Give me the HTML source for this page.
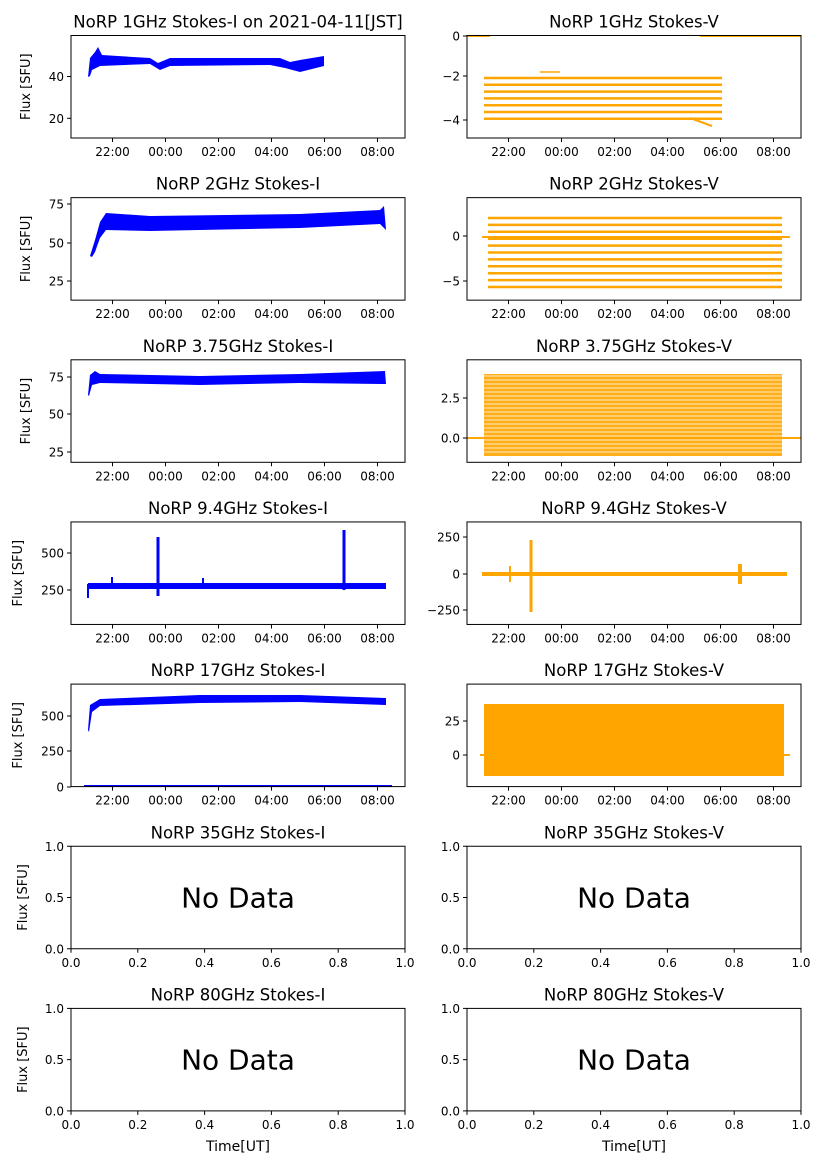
<!DOCTYPE html><html><head><meta charset="utf-8"><style>body{margin:0;background:#fff}svg{display:block;font-family:"DejaVu Sans","Liberation Sans",sans-serif}</style></head><body>
<svg id="s" width="827" height="1169" xmlns="http://www.w3.org/2000/svg"></svg>
<script>
var S=document.getElementById('s');var h='';
var B='#0000ff',O='#ffa500';
function txt(x,y,t,sz,anc,extra){h+='<text x="'+x+'" y="'+y+'" font-size="'+sz+'" text-anchor="'+(anc||'middle')+'" '+(extra||'')+'>'+t+'</text>';}
function ln(x1,y1,x2,y2,c,w){h+='<line x1="'+x1+'" y1="'+y1+'" x2="'+x2+'" y2="'+y2+'" stroke="'+c+'" stroke-width="'+w+'"/>';}
function rc(x,y,w,hh,c,op){h+='<rect x="'+x+'" y="'+y+'" width="'+w+'" height="'+hh+'" fill="'+c+'" '+(op?'opacity="'+op+'"':'')+'/>';}
var L=71,R=467,W=334,HH=102.5;
function tp(i){return 35.5+162.15*i;}
function timeTicks(x0,yb){var lb=['22:00','00:00','02:00','04:00','06:00','08:00'];lb.forEach(function(t,k){var x=x0+41.5+53*k;ln(x,yb,x,yb+4,'#000',1);txt(x,yb+18,t,12);});}
function yTicks(x0,arr){arr.forEach(function(a){ln(x0-4,a[0],x0,a[0],'#000',1);txt(x0-7,a[0]+4.5,a[1],12,'end');});}
function frm(x0,y0){h+='<rect x="'+x0+'" y="'+y0+'" width="'+W+'" height="'+HH+'" fill="none" stroke="#000" stroke-width="1"/>';}
function ttl(x0,y0,t){txt(x0+W/2,y0-8,t,16.5);}
function ylab(x,y0){txt(0,0,'Flux [SFU]',13,'middle','transform="translate('+x+','+(y0+HH/2)+') rotate(-90)"');}
var y,v;
y=tp(0);
h+='<polygon points="88,77 90,58 95,52 98,47 102,55 150,58 158,63 170,58 280,58 290,62 300,60 324,56 324,66 300,72 285,68 270,65 170,66 160,70 150,64 100,66 92,70 90,76" fill="'+B+'"/>';
ttl(L,y,'NoRP 1GHz Stokes-I on 2021-04-11[JST]');yTicks(L,[[76.5,'40'],[118.3,'20']]);ylab(30,y);timeTicks(L,y+HH);
for(v=0;v<7;v++){ln(484,78+v*6.8,722,78+v*6.8,O,2.5);}
ln(467,36,490,36,O,2);ln(700,36,801,36,O,2);ln(540,72,560,72,O,1.5);ln(690,118,712,126,O,2);
ttl(R,y,'NoRP 1GHz Stokes-V');yTicks(R,[[36,'0'],[76,'−2'],[120,'−4']]);timeTicks(R,y+HH);
y=tp(1);
h+='<polygon points="90,256 95,240 100,222 106,213 150,216 300,214 380,210 384,206 386,230 380,224 300,228 150,231 106,230 100,238 95,252 92,257" fill="'+B+'"/>';
ttl(L,y,'NoRP 2GHz Stokes-I');yTicks(L,[[204,'75'],[243,'50'],[281,'25']]);ylab(30,y);timeTicks(L,y+HH);
for(v=0;v<11;v++){ln(488,218+v*6.9,782,218+v*6.9,O,2.5);}
ln(482,237,790,237,O,2);
ttl(R,y,'NoRP 2GHz Stokes-V');yTicks(R,[[236,'0'],[281,'−5']]);timeTicks(R,y+HH);
y=tp(2);
h+='<polygon points="88,395 90,375 95,371 100,374 200,376 300,374 385,371 386,384 300,383 200,385 100,383 92,385 89,396" fill="'+B+'"/>';
ttl(L,y,'NoRP 3.75GHz Stokes-I');yTicks(L,[[377,'75'],[414,'50'],[452,'25']]);ylab(30,y);timeTicks(L,y+HH);
rc(484,374,298,82,O,0.9);
for(v=0;v<20;v++){ln(484,376+v*4,782,376+v*4,'#fff',0.8);}
ln(467,438,801,438,O,2);
ttl(R,y,'NoRP 3.75GHz Stokes-V');yTicks(R,[[398,'2.5'],[438,'0.0']]);timeTicks(R,y+HH);
y=tp(3);
rc(88,583,298,6,B);ln(88,584,88,598,B,2);ln(158,537,158,596,B,3);ln(344,530,344,590,B,3);ln(112,577,112,583,B,2);ln(203,578,203,584,B,2);
ttl(L,y,'NoRP 9.4GHz Stokes-I');yTicks(L,[[553,'500'],[590,'250']]);ylab(22,y);timeTicks(L,y+HH);
rc(482,572,305,4,O);ln(531,540,531,612,O,3);ln(740,564,740,584,O,4);ln(510,566,510,582,O,2);
ttl(R,y,'NoRP 9.4GHz Stokes-V');yTicks(R,[[537,'250'],[574,'0'],[610,'−250']]);timeTicks(R,y+HH);
y=tp(4);
h+='<polygon points="88,730 90,705 100,699 200,695 300,695 386,698 386,705 300,702 200,703 100,706 92,712 89,732" fill="'+B+'"/>';
ln(84,786,392,786,B,2);
ttl(L,y,'NoRP 17GHz Stokes-I');yTicks(L,[[716,'500'],[751,'250'],[787,'0']]);ylab(22,y);timeTicks(L,y+HH);
rc(484,704,300,72,O);ln(480,755,790,755,O,2);
ttl(R,y,'NoRP 17GHz Stokes-V');yTicks(R,[[721,'25'],[755,'0']]);timeTicks(R,y+HH);
var nd=[['NoRP 35GHz Stokes-I','NoRP 35GHz Stokes-V'],['NoRP 80GHz Stokes-I','NoRP 80GHz Stokes-V']];
for(var r=0;r<2;r++){y=tp(5+r);[L,R].forEach(function(x0,k){ttl(x0,y,nd[r][k]);yTicks(x0,[[y,'1.0'],[y+HH/2,'0.5'],[y+HH,'0.0']]);
for(var j=0;j<6;j++){var x=x0+W*j/5;ln(x,y+HH,x,y+HH+4,'#000',1);txt(x,y+HH+18,(j/5).toFixed(1),12);}
txt(x0+W/2,y+HH/2+10,'No Data',28);if(k==0)ylab(27,y);if(r==1)txt(x0+W/2,1151,'Time[UT]',14);});}
for(var i=0;i<7;i++){frm(L,tp(i));frm(R,tp(i));}
S.innerHTML=h;
</script></body></html>
